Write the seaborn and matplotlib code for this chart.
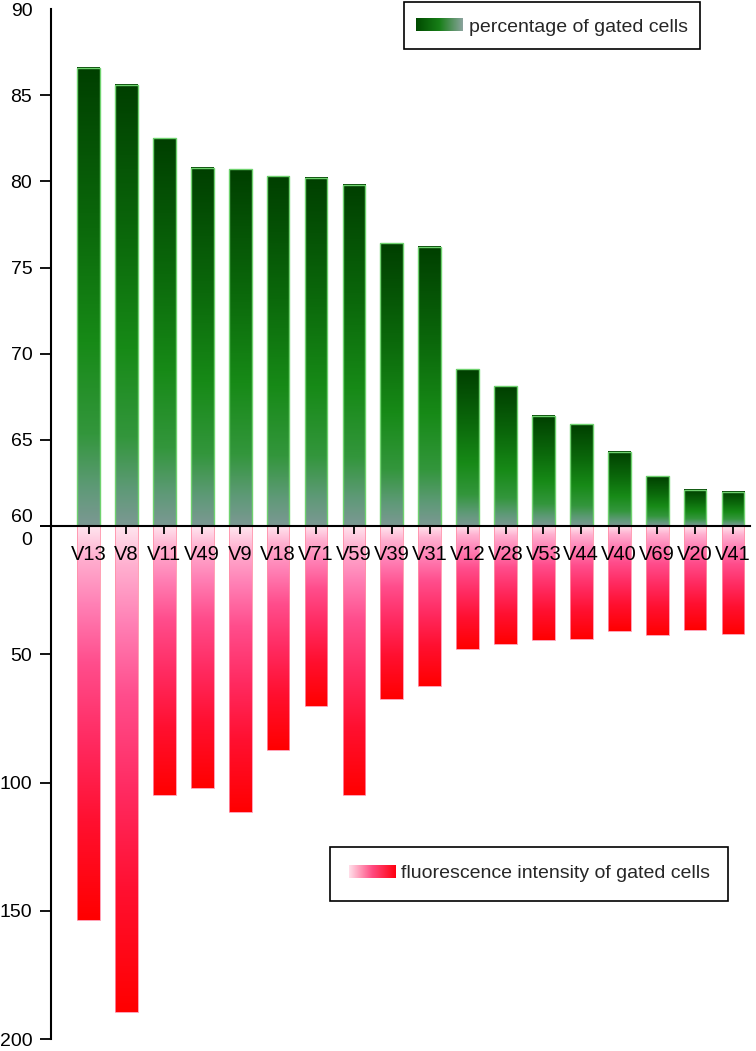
import numpy as np
import pandas as pd
import matplotlib
matplotlib.use('Agg')
import matplotlib.pyplot as plt
import seaborn as sns
from matplotlib.colors import LinearSegmentedColormap
from matplotlib.patches import Rectangle
from matplotlib.legend_handler import HandlerBase
from matplotlib.image import BboxImage
from matplotlib.transforms import Bbox, TransformedBbox, ScaledTranslation

# ---------------- data ----------------
genes = ['V13', 'V8', 'V11', 'V49', 'V9', 'V18', 'V71', 'V59', 'V39',
         'V31', 'V12', 'V28', 'V53', 'V44', 'V40', 'V69', 'V20', 'V41']
percentage = [86.6, 85.6, 82.5, 80.8, 80.7, 80.3, 80.2, 79.8, 76.4,
              76.2, 69.1, 68.1, 66.4, 65.9, 64.3, 62.9, 62.1, 62.0]
intensity = [153.7, 189.5, 104.9, 102.1, 111.4, 87.5, 70.2, 104.9, 67.3,
             62.5, 48.1, 46.0, 44.6, 44.0, 41.1, 42.5, 40.5, 42.0]
pct_ticks = [60, 65, 70, 75, 80, 85, 90]
int_ticks = [0, 50, 100, 150, 200]
legend_pct = 'percentage of gated cells'
legend_int = 'fluorescence intensity of gated cells'

sns.set_theme(style='white')
plt.rcParams['font.family'] = ['Liberation Sans', 'DejaVu Sans']

df = pd.DataFrame({'gene': genes, 'percentage': percentage, 'intensity': intensity})

W, H = 756, 1051
fig = plt.figure(figsize=(W / 100, H / 100), dpi=100)
ax1 = fig.add_axes([51 / W, (H - 526) / H, 699 / W, 517 / H])
ax2 = fig.add_axes([51 / W, (H - 1039) / H, 699 / W, 513 / H])
ax1.set_zorder(3)
ax1.patch.set_alpha(0)
ax2.patch.set_alpha(0)

green_cmap = LinearSegmentedColormap.from_list(
    'gr', [(0.0, '#003f00'), (0.35, '#0b690b'), (0.6, '#178a17'),
           (0.8, '#33963c'), (0.92, '#5f9a78'), (1.0, '#7c9893')])
red_cmap = LinearSegmentedColormap.from_list(
    'rd', [(0.0, '#ffe6ef'), (0.08, '#ffb0d0'), (0.2, '#ff80b5'),
           (0.35, '#ff4d8c'), (0.55, '#ff2a60'), (0.75, '#ff1030'),
           (1.0, '#ff0000')])
grad = np.linspace(0, 1, 256)
green_img = green_cmap(grad).reshape(256, 1, 4)
red_img = red_cmap(grad).reshape(256, 1, 4)

# ---------------- top panel ----------------
sns.barplot(data=df, x='gene', y='percentage', order=genes, color='#178a17',
            width=0.6, saturation=1, ax=ax1, edgecolor='#6fd26f', linewidth=1.0)
for p in ax1.patches:
    x0, w = p.get_x(), p.get_width()
    top = p.get_y() + p.get_height()
    ax1.imshow(green_img, extent=(x0, x0 + w, 60, top), origin='upper',
               aspect='auto', interpolation='bilinear', zorder=1)
    p.set_facecolor('none')
    p.set_zorder(1.5)

ax1.set_xlim(-0.99, 17.45)
ax1.set_ylim(60, 90)
ax1.set_yticks(pct_ticks)
ax1.set_yticklabels([str(t) for t in pct_ticks])
ax1.set_xlabel('')
ax1.set_ylabel('')
for s in ['top', 'right']:
    ax1.spines[s].set_visible(False)
for s in ['left', 'bottom']:
    ax1.spines[s].set_color('black')
    ax1.spines[s].set_linewidth(1.5)
ax1.tick_params(axis='y', direction='out', length=8, width=1.3, pad=5.5,
                labelsize=14, colors='black', left=True)
ax1.tick_params(axis='x', direction='out', length=6, width=1.3, pad=8,
                labelsize=14.5, colors='black', bottom=True)
ax1.get_yticklabels()[0].set_va('bottom')
ax1.yaxis.get_major_ticks()[-1].tick1line.set_visible(False)

# ---------------- bottom panel ----------------
sns.barplot(data=df, x='gene', y='intensity', order=genes, color='#ff2a60',
            width=0.6, saturation=1, ax=ax2, edgecolor='#ff90a8', linewidth=0.6)
for p in ax2.patches:
    x0, w = p.get_x(), p.get_width()
    v = p.get_y() + p.get_height()
    ax2.imshow(red_img, extent=(x0, x0 + w, v, 0), origin='upper',
               aspect='auto', interpolation='bilinear', zorder=1)
    p.set_facecolor('none')
    p.set_zorder(1.5)

ax2.set_xlim(-0.99, 17.45)
ax2.set_ylim(200, 0)
ax2.set_xticks([])
ax2.set_yticks(int_ticks)
ax2.set_yticklabels([str(t) for t in int_ticks])
ax2.set_xlabel('')
ax2.set_ylabel('')
for s in ['top', 'right', 'bottom']:
    ax2.spines[s].set_visible(False)
ax2.spines['left'].set_color('black')
ax2.spines['left'].set_linewidth(1.5)
ax2.tick_params(axis='y', direction='out', length=8, width=1.3, pad=5.5,
                labelsize=14, colors='black', left=True)
zero_lab = ax2.get_yticklabels()[0]
zero_lab.set_va('top')
zero_lab.set_transform(zero_lab.get_transform() +
                       ScaledTranslation(0, -6 / 100, fig.dpi_scale_trans))


# ---------------- legends with gradient swatches ----------------
class GradientHandler(HandlerBase):
    def __init__(self, colors, frac_h=1.0):
        super().__init__()
        self.cmap = LinearSegmentedColormap.from_list('lg', colors)
        self.frac_h = frac_h

    def create_artists(self, legend, orig_handle, xdescent, ydescent,
                       width, height, fontsize, trans):
        hh = height * self.frac_h
        y0 = -ydescent + (height - hh) / 2
        bb = TransformedBbox(Bbox.from_bounds(-xdescent, y0, width, hh), trans)
        img = BboxImage(bb, cmap=self.cmap, interpolation='bilinear')
        img.set_data(np.linspace(0, 1, 256).reshape(1, -1))
        return [img]


h1 = Rectangle((0, 0), 1, 1)
leg1 = fig.legend([h1], [legend_pct],
                  handler_map={h1: GradientHandler(['#004a00', '#187f18', '#8aa39d'], 0.52)},
                  loc='upper right', bbox_to_anchor=(700 / W, 1 - 2 / H),
                  bbox_transform=fig.transFigure, frameon=True, fancybox=False,
                  edgecolor='black', framealpha=1, borderpad=0.6,
                  handlelength=2.4, handleheight=1.47, handletextpad=0.36,
                  borderaxespad=0, fontsize=14)
leg1.get_frame().set_linewidth(1.2)

h2 = Rectangle((0, 0), 1, 1)
leg2 = fig.legend([h2], [legend_int],
                  handler_map={h2: GradientHandler(['#ffe0ea', '#ff4a80', '#ff0010'], 1.0)},
                  loc='upper right', bbox_to_anchor=(728 / W, 1 - 847 / H),
                  bbox_transform=fig.transFigure, frameon=True, fancybox=False,
                  edgecolor='black', framealpha=1, borderpad=0.95,
                  handlelength=2.37, handleheight=0.6, handletextpad=0.3,
                  borderaxespad=0, fontsize=14)
leg2.get_frame().set_linewidth(1.2)

fig.savefig('out.png', dpi=100)
